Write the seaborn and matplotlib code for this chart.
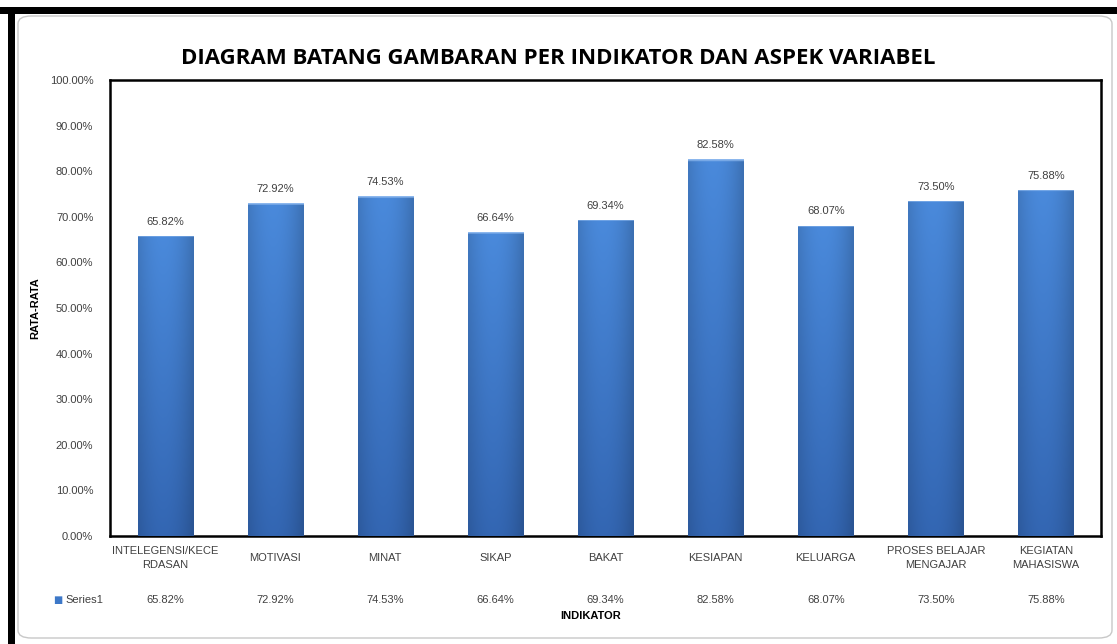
import numpy as np
import pandas as pd
import matplotlib
matplotlib.use('Agg')
import matplotlib.pyplot as plt
import matplotlib.transforms as mtransforms
from matplotlib.patches import Rectangle, FancyBboxPatch
import seaborn as sns

# data
kategori = ['INTELEGENSI/KECE\nRDASAN', 'MOTIVASI', 'MINAT', 'SIKAP', 'BAKAT',
            'KESIAPAN', 'KELUARGA', 'PROSES BELAJAR\nMENGAJAR', 'KEGIATAN\nMAHASISWA']
nilai = [65.82, 72.92, 74.53, 66.64, 69.34, 82.58, 68.07, 73.50, 75.88]
y_ticks = [0, 10, 20, 30, 40, 50, 60, 70, 80, 90, 100]

df = pd.DataFrame({'indikator': kategori, 'rata': nilai})

sns.set_theme(style='white')
plt.rcParams['font.family'] = ['Liberation Sans', 'DejaVu Sans']

fig = plt.figure(figsize=(11.17, 6.44), dpi=100)
fig.patch.set_facecolor('white')

# bingkai hitam atas & kiri, bingkai abu membulat
fig.patches.append(Rectangle((0, 1 - 14 / 644), 1, 7 / 644, transform=fig.transFigure,
                             facecolor='black', edgecolor='none', zorder=5))
fig.patches.append(Rectangle((8 / 1117, 0), 7 / 1117, 1 - 7 / 644, transform=fig.transFigure,
                             facecolor='black', edgecolor='none', zorder=5))
fig.patches.append(FancyBboxPatch((18 / 1117, 6 / 644), 1094 / 1117, 622 / 644,
                                  boxstyle='round,pad=0,rounding_size=0.012',
                                  transform=fig.transFigure, facecolor='white',
                                  edgecolor='#c8c8c8', linewidth=1.0, zorder=-1))

ax = fig.add_axes([110 / 1117, 1 - 536 / 644, 991 / 1117, 456 / 644])
ax.set_zorder(1)
ax.set_facecolor('white')
sns.barplot(data=df, x='indikator', y='rata', color='#3d78c8', width=0.5,
            saturation=1, ax=ax, zorder=2)

# gradasi warna batang
nr, nc = 200, 30
t = np.linspace(0, 1, nr)[:, None]
u = np.linspace(0, 1, nc)[None, :]
light = np.array([0.29, 0.54, 0.86])
dark = np.array([0.20, 0.40, 0.70])
grad = light[None, None, :] * (1 - t[..., None]) + dark[None, None, :] * t[..., None]
shade = 1 - 0.18 * ((np.abs(u - 0.45) / 0.55) ** 2)
grad = grad * shade[..., None]
grad[0:1, :, :] = np.array([0.55, 0.72, 0.93])
grad = np.clip(grad, 0, 1)
for p in list(ax.patches):
    x0, y0, w, h = p.get_x(), p.get_y(), p.get_width(), p.get_height()
    im = ax.imshow(grad, extent=[x0, x0 + w, y0, y0 + h], aspect='auto',
                   zorder=3, interpolation='bilinear')
    im.set_clip_path(p)
ax.set_xlim(-0.5, len(kategori) - 0.5)
ax.set_ylim(0, 100)

# label nilai di atas batang
for i, v in enumerate(nilai):
    ax.text(i, v + 2.0, f'{v:.2f}%', ha='center', va='bottom', fontsize=8, color='#404040')

ax.set_yticks(y_ticks)
ax.set_yticklabels([f'{v:.2f}%' for v in y_ticks], fontsize=8, color='#404040')
ax.set_xticks(range(len(kategori)))
ax.set_xticklabels(kategori, fontsize=8, color='#404040', linespacing=1.5)
for lbl in ax.get_xticklabels():
    lbl.set_verticalalignment('center')
ax.tick_params(axis='both', length=0)
ax.tick_params(axis='y', pad=12)
ax.tick_params(axis='x', pad=16)
for s in ax.spines.values():
    s.set_visible(True)
    s.set_color('black')
    s.set_linewidth(1.8)

ax.set_xlabel('')
ax.set_ylabel('RATA-RATA', fontsize=8, fontweight='bold', color='black')
ax.yaxis.set_label_coords(-0.07, 0.5)

# baris tabel data
tr = mtransforms.blended_transform_factory(ax.transData, ax.transAxes)
for i, v in enumerate(nilai):
    ax.text(i, -0.14, f'{v:.2f}%', transform=tr, ha='center', va='center',
            fontsize=8, color='#404040')
ax.text(-0.053, -0.14, '■', transform=ax.transAxes, ha='center', va='center',
        fontsize=7, color='#3d78c8', family=['DejaVu Sans'])
ax.text(-0.045, -0.14, 'Series1', transform=ax.transAxes, ha='left', va='center',
        fontsize=8, color='#404040')
ax.text(0.485, -0.176, 'INDIKATOR', transform=ax.transAxes, ha='center', va='center',
        fontsize=8, fontweight='bold', color='black')

fig.text(0.5, 1 - 58 / 644, 'DIAGRAM BATANG GAMBARAN PER INDIKATOR DAN ASPEK VARIABEL',
         ha='center', va='center', fontsize=16, fontweight='bold', color='black',
         family=['Open Sans', 'DejaVu Sans'])

fig.savefig('out.png', dpi=100)
